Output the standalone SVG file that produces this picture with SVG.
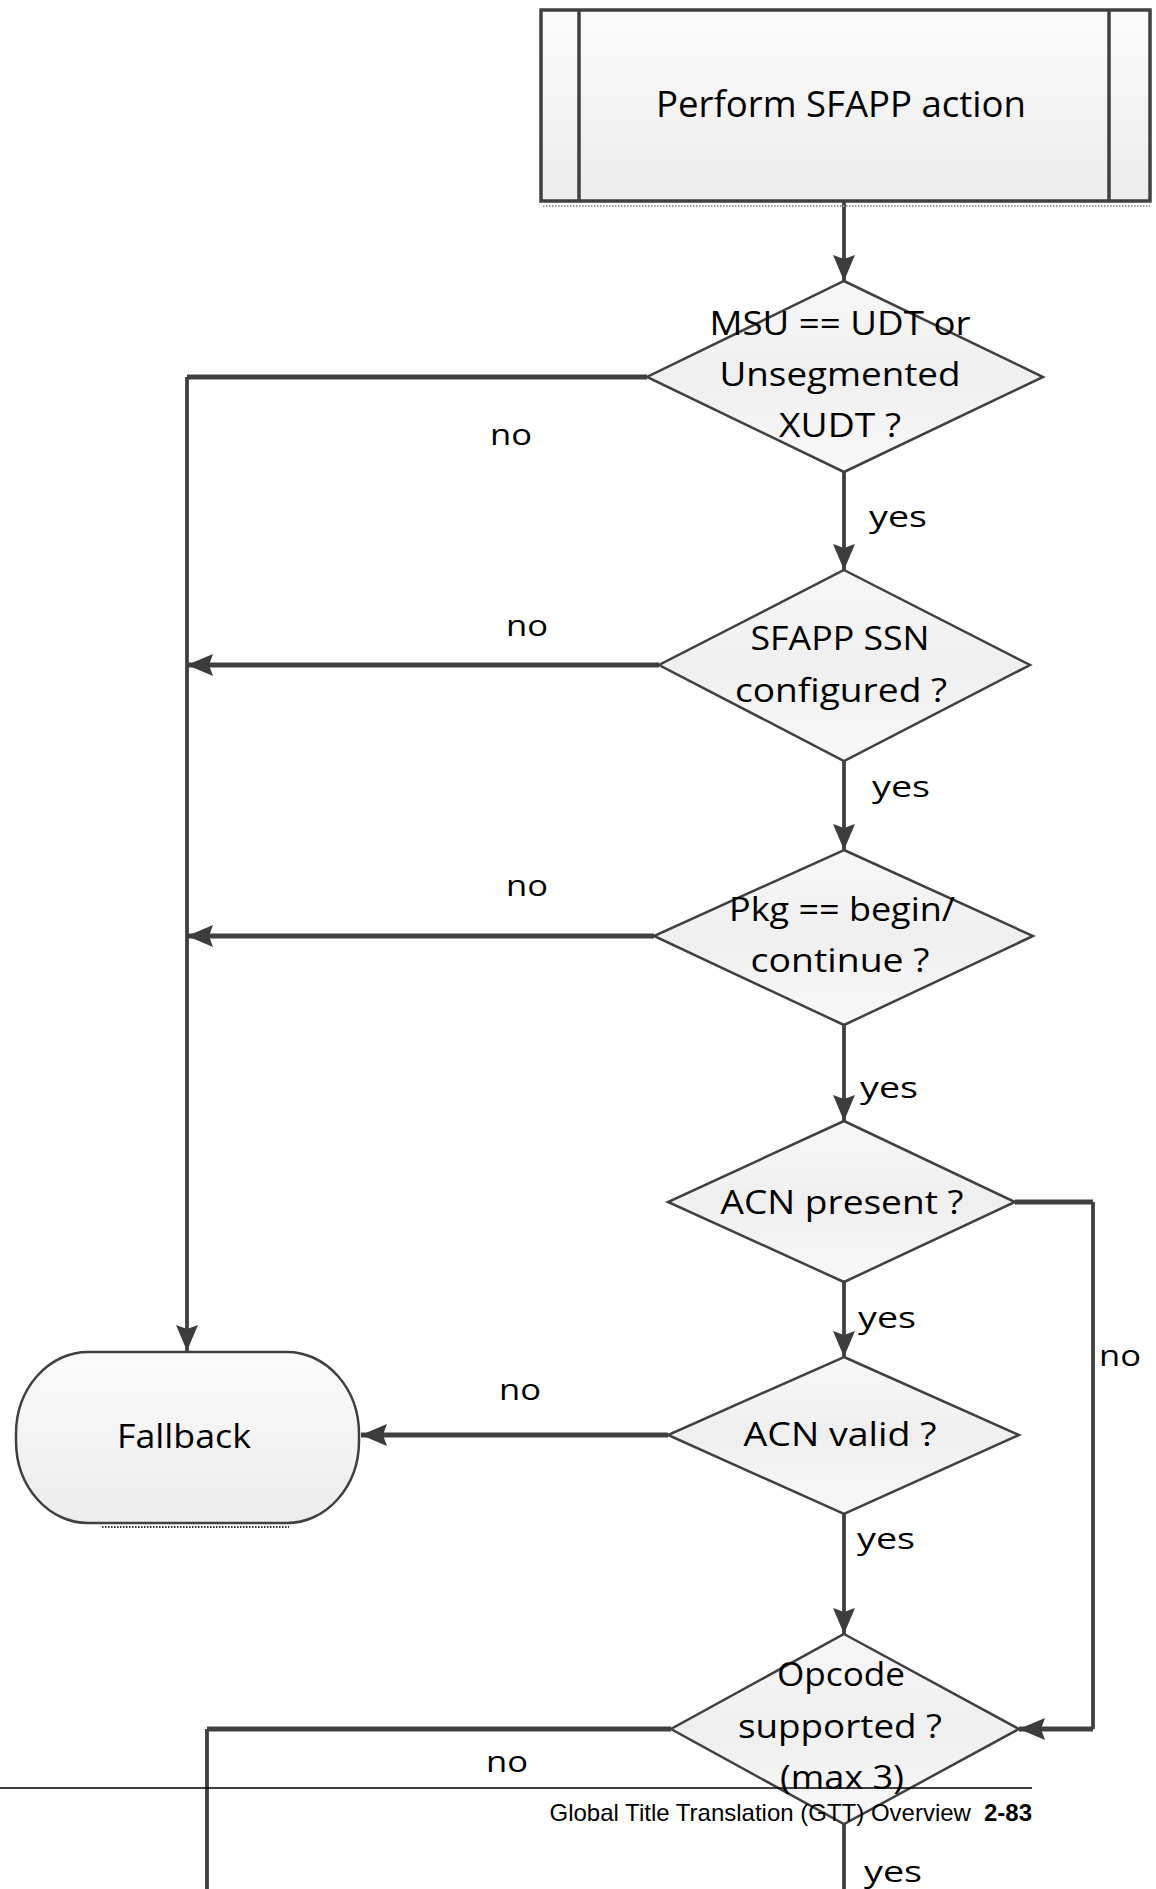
<svg xmlns="http://www.w3.org/2000/svg" width="1156" height="1889" viewBox="0 0 1156 1889">
<defs>
<linearGradient id="gDia" x1="0" y1="0" x2="0" y2="1">
<stop offset="0" stop-color="#f7f7f7"/>
<stop offset="0.5" stop-color="#efefef"/>
<stop offset="1" stop-color="#f8f8f8"/>
</linearGradient>
<linearGradient id="gBox" x1="0" y1="0" x2="0" y2="1">
<stop offset="0" stop-color="#fbfbfb"/>
<stop offset="1" stop-color="#ececec"/>
</linearGradient>
<marker id="arr" markerUnits="userSpaceOnUse" markerWidth="30" markerHeight="26" refX="26" refY="13" orient="auto">
<path d="M0,2 L26,13 L0,24 L4,13 z" fill="#3c3c3c"/>
</marker>
</defs>
<style>
.dia{fill:url(#gDia);stroke:#404040;stroke-width:2.5}
.box{fill:url(#gBox);stroke:#404040;stroke-width:3.5}
.lbl{font-family:"Open Sans","DejaVu Sans",sans-serif;font-size:33px;fill:#000;text-anchor:middle}
.ttl{font-family:"Open Sans","DejaVu Sans",sans-serif;font-size:37px;fill:#000;text-anchor:middle}
.yn{font-family:"Open Sans","DejaVu Sans",sans-serif;font-size:30px;fill:#000;text-anchor:middle}
.c{fill:none;stroke:#404040;stroke-width:5}
.cv{fill:none;stroke:#404040;stroke-width:3.8}
.foot{font-family:"Liberation Sans",Arial,sans-serif;font-size:24px;fill:#000;text-anchor:end}
</style>
<rect width="1156" height="1889" fill="#ffffff"/>

<g id="connectors">
<path class="cv" d="M844,201 V281" marker-end="url(#arr)"/>
<path class="cv" d="M844,472 V570" marker-end="url(#arr)"/>
<path class="cv" d="M844,761 V850" marker-end="url(#arr)"/>
<path class="cv" d="M844,1025 V1121" marker-end="url(#arr)"/>
<path class="cv" d="M844,1282 V1357" marker-end="url(#arr)"/>
<path class="cv" d="M844,1514 V1634" marker-end="url(#arr)"/>
<path class="cv" d="M844,1824 V1889"/>
<path class="c" d="M647,377 H187"/>
<path class="cv" d="M187,377 V1351" marker-end="url(#arr)"/>
<path class="c" d="M659,665 H187" marker-end="url(#arr)"/>
<path class="c" d="M654,936 H187" marker-end="url(#arr)"/>
<path class="c" d="M1015,1202 H1093"/>
<path class="cv" d="M1093,1202 V1729"/>
<path class="c" d="M1093,1729 H1019" marker-end="url(#arr)"/>
<path class="c" d="M668,1435 H361" marker-end="url(#arr)"/>
<path class="c" d="M671,1729 H207"/>
<path class="cv" d="M207,1729 V1889"/>
<text class="yn" x="511" y="445" textLength="42" lengthAdjust="spacingAndGlyphs">no</text>
<text class="yn" x="898" y="527" textLength="58" lengthAdjust="spacingAndGlyphs">yes</text>
<text class="yn" x="527" y="636" textLength="42" lengthAdjust="spacingAndGlyphs">no</text>
<text class="yn" x="901" y="797" textLength="58" lengthAdjust="spacingAndGlyphs">yes</text>
<text class="yn" x="527" y="896" textLength="42" lengthAdjust="spacingAndGlyphs">no</text>
<text class="yn" x="889" y="1098" textLength="58" lengthAdjust="spacingAndGlyphs">yes</text>
<text class="yn" x="1120" y="1366" textLength="42" lengthAdjust="spacingAndGlyphs">no</text>
<text class="yn" x="887" y="1328" textLength="58" lengthAdjust="spacingAndGlyphs">yes</text>
<text class="yn" x="520" y="1400" textLength="42" lengthAdjust="spacingAndGlyphs">no</text>
<text class="yn" x="886" y="1549" textLength="58" lengthAdjust="spacingAndGlyphs">yes</text>
<text class="yn" x="507" y="1772" textLength="42" lengthAdjust="spacingAndGlyphs">no</text>
<text class="yn" x="893" y="1882" textLength="58" lengthAdjust="spacingAndGlyphs">yes</text>
</g>

<g id="perform">
<rect class="box" x="541" y="10" width="609" height="191"/>
<line x1="579" y1="10" x2="579" y2="201" stroke="#404040" stroke-width="3.5"/>
<line x1="1109" y1="10" x2="1109" y2="201" stroke="#404040" stroke-width="3.5"/>
<line x1="543" y1="206" x2="1150" y2="206" stroke="#9a9a9a" stroke-width="2" stroke-dasharray="1.5 1.5"/>
<text class="ttl" x="841" y="117" textLength="370" lengthAdjust="spacingAndGlyphs">Perform SFAPP action</text>
</g>

<g id="d1">
<polygon class="dia" points="844,281 1043,377 844,472 647,377"/>
<text class="lbl" x="840" y="335" textLength="261" lengthAdjust="spacingAndGlyphs">MSU == UDT or</text>
<text class="lbl" x="840" y="386" textLength="241" lengthAdjust="spacingAndGlyphs">Unsegmented</text>
<text class="lbl" x="840" y="437" textLength="122" lengthAdjust="spacingAndGlyphs">XUDT ?</text>
</g>

<g id="d2">
<polygon class="dia" points="844,570 1030,665 844,761 659,665"/>
<text class="lbl" x="840" y="650" textLength="179" lengthAdjust="spacingAndGlyphs">SFAPP SSN</text>
<text class="lbl" x="841" y="702" textLength="212" lengthAdjust="spacingAndGlyphs">configured ?</text>
</g>

<g id="d3">
<polygon class="dia" points="844,850 1033,936 844,1025 654,936"/>
<text class="lbl" x="842" y="921" textLength="226" lengthAdjust="spacingAndGlyphs">Pkg == begin/</text>
<text class="lbl" x="840" y="972" textLength="179" lengthAdjust="spacingAndGlyphs">continue ?</text>
</g>

<g id="d4">
<polygon class="dia" points="844,1121 1015,1202 844,1282 668,1202"/>
<text class="lbl" x="842" y="1214" textLength="243" lengthAdjust="spacingAndGlyphs">ACN present ?</text>
</g>

<g id="d5">
<polygon class="dia" points="844,1357 1019,1435 844,1514 668,1435"/>
<text class="lbl" x="840" y="1446" textLength="193" lengthAdjust="spacingAndGlyphs">ACN valid ?</text>
</g>

<g id="fallback">
<rect x="16" y="1352" width="343" height="171" rx="72" ry="82" fill="url(#gBox)" stroke="#404040" stroke-width="2.5"/>
<line x1="102" y1="1527" x2="289" y2="1527" stroke="#333" stroke-width="2" stroke-dasharray="1.5 1.5"/>
<text class="lbl" x="184" y="1448" textLength="134" lengthAdjust="spacingAndGlyphs">Fallback</text>
</g>

<g id="d6">
<polygon class="dia" points="844,1634 1019,1729 844,1824 671,1729"/>
<text class="lbl" x="841" y="1686" textLength="128" lengthAdjust="spacingAndGlyphs">Opcode</text>
<text class="lbl" x="840" y="1738" textLength="204" lengthAdjust="spacingAndGlyphs">supported ?</text>
<text class="lbl" x="842" y="1789" textLength="124" lengthAdjust="spacingAndGlyphs">(max 3)</text>
</g>

<g id="footer">
<line x1="0" y1="1788" x2="1032" y2="1788" stroke="#000" stroke-width="1.3"/>
<text class="foot" x="1032" y="1821">Global Title Translation (GTT) Overview<tspan dx="13" font-weight="bold">2-83</tspan></text>
</g>
</svg>
